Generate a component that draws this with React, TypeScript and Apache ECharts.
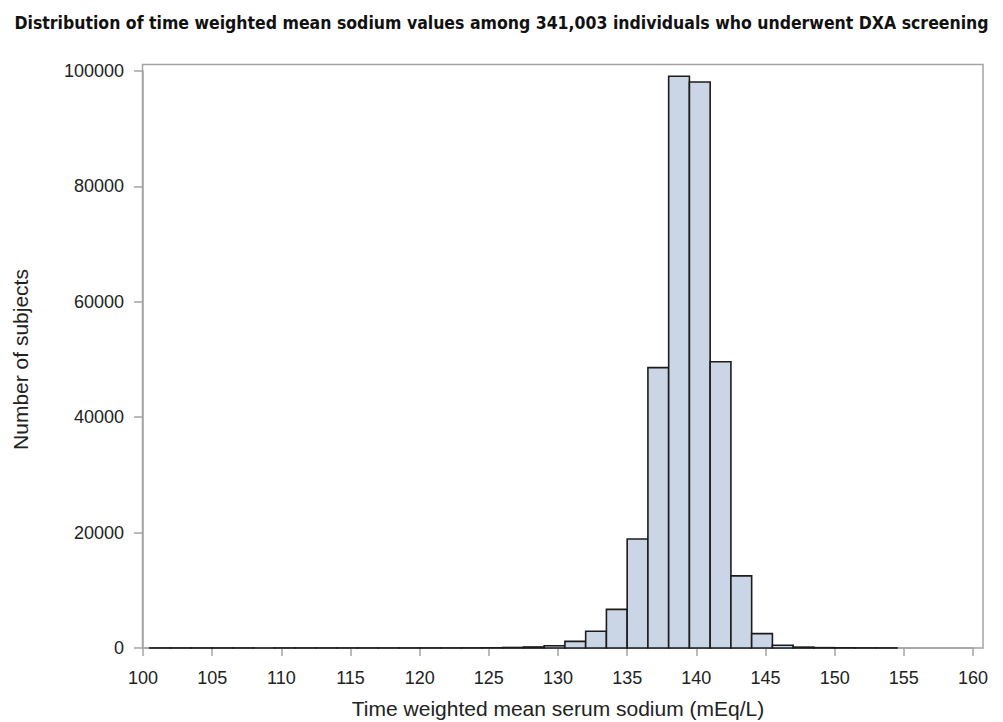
import React, { useEffect, useRef } from 'react';
import * as echarts from 'echarts';

const titleText =
  'Distribution of time weighted mean sodium values among 341,003 individuals who underwent DXA screening';
const xAxisTitle = 'Time weighted mean serum sodium (mEq/L)';
const yAxisTitle = 'Number of subjects';

const binLower = [
  100.5, 102, 103.5, 105, 106.5, 108, 109.5, 111, 112.5, 114, 115.5, 117,
  118.5, 120, 121.5, 123, 124.5, 126, 127.5, 129, 130.5, 132, 133.5, 135,
  136.5, 138, 139.5, 141, 142.5, 144, 145.5, 147, 148.5, 150, 151.5, 153,
];
const binUpper = [
  102, 103.5, 105, 106.5, 108, 109.5, 111, 112.5, 114, 115.5, 117, 118.5,
  120, 121.5, 123, 124.5, 126, 127.5, 129, 130.5, 132, 133.5, 135, 136.5,
  138, 139.5, 141, 142.5, 144, 145.5, 147, 148.5, 150, 151.5, 153, 154.5,
];
const counts = [
  10, 10, 10, 10, 10, 10, 10, 10, 10, 10, 10, 10,
  10, 15, 15, 20, 40, 90, 180, 400, 1150, 2900, 6700, 18900,
  48600, 99100, 98100, 49600, 12500, 2500, 480, 150, 60, 30, 20, 15,
];

const xTicks = [100, 105, 110, 115, 120, 125, 130, 135, 140, 145, 150, 155, 160];
const yTicks = [0, 20000, 40000, 60000, 80000, 100000];

const FONT = '"Liberation Sans", Arial, sans-serif';
const AXIS_GRAY = '#a4a4a4';

export default function App() {
  const ref = useRef<HTMLDivElement>(null);

  useEffect(() => {
    if (!ref.current) return;
    const chart = echarts.init(ref.current, undefined, { renderer: 'svg' });
    const data = binLower.map((lo, i) => [lo, binUpper[i], counts[i]]);

    chart.setOption({
      animation: false,
      backgroundColor: '#ffffff',
      title: {
        text: titleText,
        left: 'center',
        top: 9,
        textStyle: {
          fontFamily: '"Liberation Sans Narrow", "DejaVu Sans Condensed", Arial, sans-serif',
          fontWeight: 'bold',
          fontSize: 17.5,
          color: '#111',
        },
      },
      grid: { left: 143, right: 30, top: 71, bottom: 74, containLabel: false, outerBoundsMode: 'none' },
      xAxis: {
        type: 'value',
        min: xTicks[0],
        max: xTicks[xTicks.length - 1],
        interval: 5,
        name: xAxisTitle,
        nameLocation: 'middle',
        nameGap: 50,
        nameTextStyle: { fontFamily: FONT, fontSize: 21, color: '#222' },
        axisLine: { show: true, lineStyle: { color: AXIS_GRAY, width: 1.5 } },
        axisTick: { show: true, length: 8, lineStyle: { color: AXIS_GRAY, width: 1.5 } },
        axisLabel: {
          margin: 21,
          fontFamily: FONT,
          fontSize: 18,
          color: '#222',
          formatter: (v: number) => (xTicks.includes(v) ? String(v) : ''),
        },
        splitLine: { show: false },
      },
      yAxis: {
        type: 'value',
        min: yTicks[0],
        max: yTicks[yTicks.length - 1],
        interval: 20000,
        name: yAxisTitle,
        nameLocation: 'middle',
        nameGap: 112,
        nameTextStyle: { fontFamily: FONT, fontSize: 21, color: '#222' },
        axisLine: { show: true, lineStyle: { color: AXIS_GRAY, width: 1.5 } },
        axisTick: { show: true, length: 9, lineStyle: { color: AXIS_GRAY, width: 1.5 } },
        axisLabel: {
          margin: 19,
          fontFamily: FONT,
          fontSize: 18,
          color: '#222',
          formatter: (v: number) => (yTicks.includes(v) ? String(v) : ''),
        },
        splitLine: { show: false },
      },
      graphic: [
        {
          type: 'rect',
          shape: { x: 142.5, y: 64.5, width: 840.5, height: 583.5 },
          style: { fill: 'none', stroke: AXIS_GRAY, lineWidth: 1.5 },
          silent: true,
          z: 0,
        },
      ],
      series: [
        {
          type: 'custom',
          data,
          encode: { x: [0, 1], y: 2 },
          clip: false,
          renderItem: (params: any, api: any) => {
            const x0 = api.value(0);
            const x1 = api.value(1);
            const v = api.value(2);
            const p0 = api.coord([x0, v]);
            const p1 = api.coord([x1, 0]);
            return {
              type: 'rect',
              shape: { x: p0[0], y: p0[1], width: p1[0] - p0[0], height: p1[1] - p0[1] },
              style: { fill: '#cad5e5', stroke: '#1c1c1c', lineWidth: 1.6 },
            };
          },
          z: 2,
        },
      ],
    });

    return () => chart.dispose();
  }, []);

  return (
    <div
      ref={ref}
      style={{ position: 'fixed', left: 0, top: 0, width: 1003, height: 722, background: '#fff' }}
    />
  );
}
